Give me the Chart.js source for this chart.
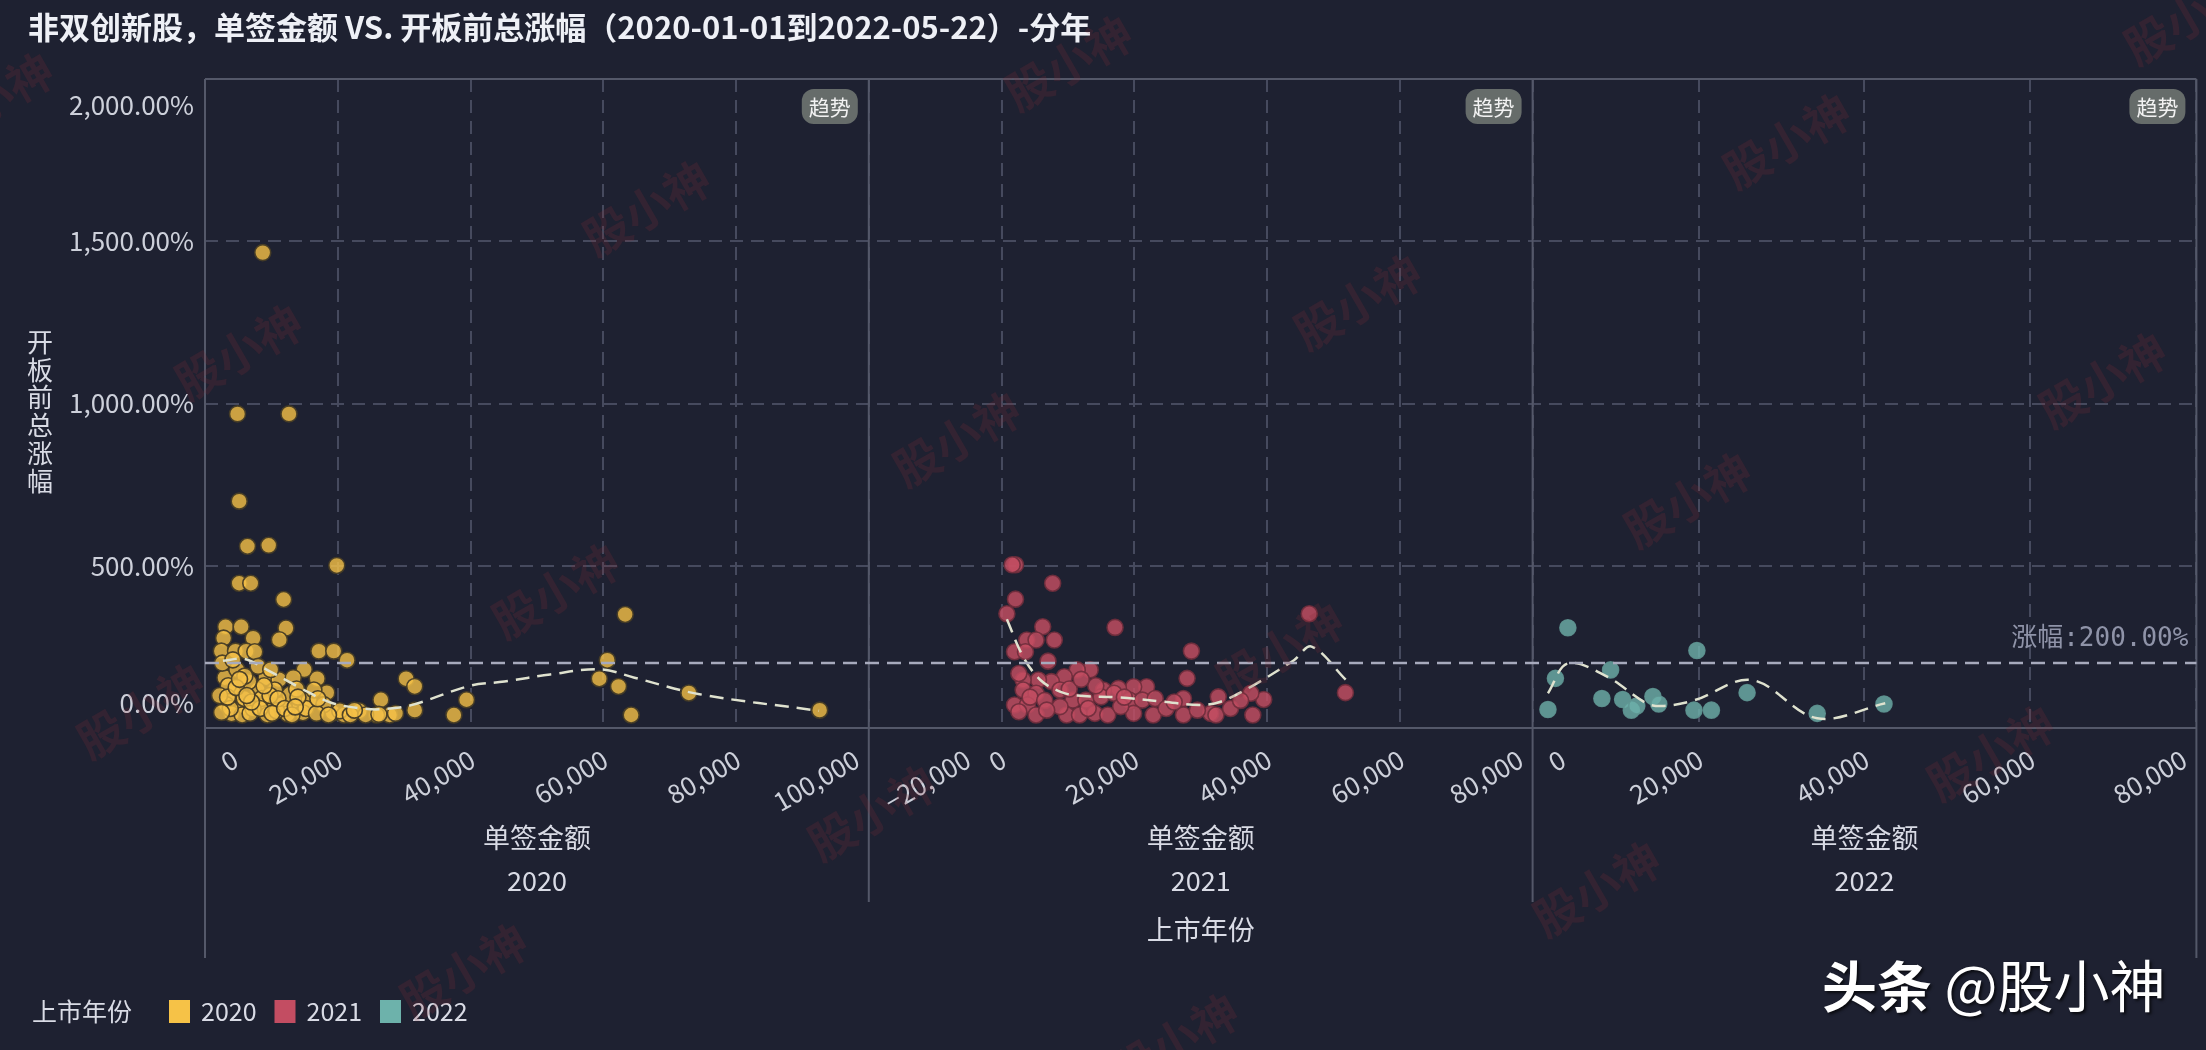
<!DOCTYPE html>
<html>
<head>
<meta charset="utf-8">
<script src="https://cdn.jsdelivr.net/npm/chart.js@4.4.1/dist/chart.umd.min.js"></script>
<style>
  html, body { margin: 0; padding: 0; background: #1e2131; }
  #wrap { width: 2206px; height: 1050px; }
</style>
</head>
<body>
<div id="wrap"><canvas id="canvas" width="2206" height="1050"></canvas></div>
<script>
var chartTitle = '非双创新股，单签金额 VS. 开板前总涨幅（2020-01-01到2022-05-22）-分年';
var years = ['2020', '2021', '2022'];
var yearColors = ['#f6c247', '#c34d62', '#6db2ab'];
var xMins = [0, -20000, 0];
var xMaxs = [100000, 80000, 80000];
var xStep = 20000;
var yMin = 0, yMax = 2000, yStep = 500;
var ruleValue = 200;

// 单签金额 / 开板前总涨幅(%)
var amt2020 = [8700, 4900, 12650, 5150, 6400, 9600, 5150, 6900, 19850, 11850, 12200, 11200, 63300, 17150, 19400, 21400, 60600, 59400, 62300, 64200, 72900, 92600, 30300, 31600, 26500, 39400, 37500, 31600, 27800, 25850, 23250, 18350, 16900, 14950, 3100, 5450, 2800, 7250, 2450, 4600, 6200, 7500, 3000, 4800, 4300, 9200, 11150, 13300, 3200, 5800, 9200, 11500, 14300, 15700, 4000, 5600, 9400, 12450, 14750, 19300, 20950, 7900, 10500, 12800, 6600, 16400, 17900, 20300, 21900, 24200, 5900, 8550, 7250, 10800, 2600, 3500, 6000, 8000, 9800, 11000, 13800, 15200, 16800, 18600, 3800, 6800, 8300, 10100, 12000, 13100, 2200, 3400, 4700, 7000, 8900, 14000, 17000, 22500, 26200, 28700, 2500, 4200, 5200, 6300, 9900, 13600];
var gain2020 = [1465, 968, 968, 699, 560, 563, 446, 446, 501, 396, 308, 272, 350, 237, 237, 209, 209, 152, 128, 40, 108, 55, 152, 128, 87, 87, 40, 55, 40, 40, 53, 109, 152, 180, 312, 312, 277, 277, 237, 237, 237, 235, 155, 180, 107, 155, 149, 155, 72, 68, 72, 72, 72, 85, 44, 40, 40, 43, 47, 47, 40, 117, 117, 104, 143, 117, 72, 53, 40, 40, 91, 91, 59, 53, 200, 130, 160, 190, 100, 90, 120, 60, 45, 40, 60, 45, 60, 45, 60, 40, 100, 95, 125, 80, 130, 95, 90, 55, 42, 45, 48, 210, 150, 100, 180, 65];

var amt2021 = [2100, 1600, 7700, 2100, 800, 17100, 6200, 7950, 3800, 5200, 1950, 3600, 7000, 28600, 46350, 51800, 27950, 27400, 31500, 37850, 39500, 37550, 32650, 21850, 19900, 17600, 15350, 13350, 11400, 9450, 7500, 5550, 3250, 2600, 3250, 5200, 8800, 10750, 12700, 15000, 16950, 19250, 21200, 23150, 1950, 3900, 5200, 2600, 9800, 11750, 14050, 16000, 19900, 22850, 27400, 32300, 17950, 13050, 8800, 4300, 6500, 10200, 14200, 18500, 24800, 29500, 34500, 36000, 26000, 12000, 6800];
var gain2021 = [503, 503, 446, 397, 352, 310, 312, 271, 271, 271, 235, 235, 206, 237, 352, 109, 153, 91, 45, 40, 88, 107, 96, 127, 127, 122, 117, 179, 179, 158, 143, 148, 148, 168, 117, 107, 117, 86, 86, 96, 107, 86, 86, 91, 71, 71, 40, 50, 40, 40, 45, 40, 45, 40, 40, 40, 66, 60, 66, 95, 85, 120, 130, 95, 60, 55, 60, 85, 80, 150, 55];

var amt2022 = [4250, 19800, 2750, 9400, 1850, 8350, 10850, 11900, 12550, 14500, 15200, 19450, 21550, 25850, 34300, 42350];
var gain2022 = [309, 239, 153, 179, 57, 91, 88, 55, 68, 97, 74, 55, 55, 109, 45, 74];

// 趋势线
var trendAmt2020 = [2700, 5900, 9200, 14400, 19000, 24200, 27500, 31400, 39900, 45100, 52000, 59500, 64700, 74500, 92500];
var trendGain2020 = [207, 213, 181, 123, 78, 59, 59, 72, 130, 143, 165, 181, 155, 104, 53];
var trendAmt2021 = [800, 3250, 5850, 8800, 11400, 17950, 24500, 29700, 33000, 37550, 44050, 46700, 51900];
var trendGain2021 = [335, 220, 148, 112, 100, 94, 81, 71, 81, 127, 209, 251, 148];
var trendAmt2022 = [1850, 4250, 9000, 13750, 15850, 19550, 26400, 34300, 42500];
var trendGain2022 = [107, 199, 158, 76, 68, 86, 148, 30, 76];

var watermarks = [[1069, 63], [647, 208], [1787, 141], [1358, 302], [239, 352], [2103, 380], [957, 439], [1688, 500], [556, 591], [1280, 650], [141, 711], [1991, 753], [872, 813], [1597, 889], [464, 971], [2188, 17], [1175, 1041], [-10, 100]];

var fontFam = '"Noto Sans CJK SC", "Noto Sans", sans-serif';
var tickColor = '#cdd0da';
var gridColor = '#464a5e';
var frameColor = '#545869';
var pointFills = ['rgba(246,194,71,0.8)', 'rgba(196,78,99,0.82)', 'rgba(110,178,171,0.8)'];
var pointBorders = ['rgba(70,60,38,0.95)', 'rgba(110,45,60,0.9)', 'rgba(95,150,146,0.9)'];

Chart.defaults.font.family = fontFam;

function pairs(xs, ys) {
	var out = [];
	for (var i = 0; i < xs.length; i++) out.push({x: xs[i], y: ys[i]});
	return out;
}
function fmtAmt(v) {
	return (v < 0 ? '\u2212' : '') + Math.abs(v).toLocaleString('en-US');
}
function fmtPct(v) {
	return v.toLocaleString('en-US', {minimumFractionDigits: 2, maximumFractionDigits: 2}) + '%';
}

var pointSets = [pairs(amt2020, gain2020), pairs(amt2021, gain2021), pairs(amt2022, gain2022)];
var trendSets = [pairs(trendAmt2020, trendGain2020), pairs(trendAmt2021, trendGain2021), pairs(trendAmt2022, trendGain2022)];

var datasets = [];
years.forEach(function(yr, i) {
	datasets.push({
		label: yr + ' 趋势',
		data: trendSets[i],
		xAxisID: 'x' + yr,
		yAxisID: 'y',
		showLine: true,
		borderColor: '#dfe2cf',
		borderWidth: 2.5,
		borderDash: [14, 8],
		pointRadius: 0,
		tension: 0.35,
		order: 0
	});
	datasets.push({
		label: yr,
		data: pointSets[i],
		xAxisID: 'x' + yr,
		yAxisID: 'y',
		backgroundColor: pointFills[i],
		borderColor: pointBorders[i],
		borderWidth: 1.6,
		pointRadius: 8,
		order: 1
	});
});

var scales = {
	y: {
		type: 'linear',
		position: 'left',
		min: yMin,
		max: yMax,
		ticks: {stepSize: yStep, display: false},
		grid: {color: gridColor, lineWidth: 2, drawTicks: false},
		border: {display: false, dash: [13, 8]},
		afterFit: function(s) { s.width = 205; }
	}
};
years.forEach(function(yr, i) {
	scales['x' + yr] = {
		type: 'linear',
		position: 'bottom',
		stack: 'year',
		stackWeight: 1,
		min: xMins[i],
		max: xMaxs[i],
		ticks: {stepSize: xStep, display: false},
		grid: {color: gridColor, lineWidth: 2, drawTicks: false},
		border: {display: false, dash: [13, 8]},
		title: {
			display: true,
			text: ['单签金额', yr],
			color: '#d9dbe5',
			font: {size: 27, lineHeight: '43px'},
			padding: {top: 0, bottom: 148}
		},
		afterFit: function(s) { s.height = 322; }
	};
});

var overlay = {
	id: 'overlay',
	beforeDatasetsDraw: function(chart) {
		var ctx = chart.ctx, a = chart.chartArea;
		ctx.save();
		ctx.strokeStyle = frameColor;
		ctx.lineWidth = 2;
		ctx.beginPath();
		ctx.moveTo(a.left, a.top); ctx.lineTo(a.right, a.top);
		ctx.moveTo(a.left, a.bottom); ctx.lineTo(a.right, a.bottom);
		ctx.moveTo(a.left, a.top); ctx.lineTo(a.left, 958);
		ctx.moveTo(a.right, a.top); ctx.lineTo(a.right, 958);
		for (var i = 1; i < years.length; i++) {
			var s = chart.scales['x' + years[i]];
			ctx.moveTo(s.left, a.top); ctx.lineTo(s.left, 902);
		}
		ctx.stroke();
		ctx.restore();
	},
	afterDatasetsDraw: function(chart) {
		var ctx = chart.ctx, a = chart.chartArea;
		var y = chart.scales.y.getPixelForValue(ruleValue);
		ctx.save();
		ctx.strokeStyle = '#a7aabd';
		ctx.lineWidth = 2.5;
		ctx.setLineDash([14, 8]);
		ctx.beginPath(); ctx.moveTo(a.left, y); ctx.lineTo(a.right, y); ctx.stroke();
		ctx.setLineDash([]);
		ctx.font = '26px "DejaVu Sans Mono", "Noto Sans CJK SC", monospace';
		ctx.fillStyle = '#8f93a8';
		ctx.textAlign = 'right';
		ctx.textBaseline = 'middle';
		ctx.fillText('涨幅:' + fmtPct(ruleValue), a.right - 8, y - 24);
		ctx.restore();
	},
	afterDraw: function(chart) {
		var ctx = chart.ctx, a = chart.chartArea;
		ctx.save();
		ctx.textBaseline = 'middle';

		// title
		ctx.fillStyle = '#eef0f6';
		ctx.font = 'bold 31px ' + fontFam;
		ctx.textAlign = 'left';
		ctx.fillText(chartTitle, 28, 27);

		// y ticks
		var ys = chart.scales.y;
		ctx.font = '26px ' + fontFam;
		ctx.fillStyle = tickColor;
		ctx.textAlign = 'right';
		ys.ticks.forEach(function(t, i) {
			var py = ys.getPixelForValue(t.value);
			if (i === 0) py -= 25;
			if (i === ys.ticks.length - 1) py += 26;
			ctx.fillText(fmtPct(t.value), a.left - 11, py);
		});

		// x ticks
		years.forEach(function(yr) {
			var s = chart.scales['x' + yr];
			var n = s.ticks.length;
			s.ticks.forEach(function(t, i) {
				var px = s.getPixelForValue(t.value);
				var txt = fmtAmt(t.value);
				var w = ctx.measureText(txt).width;
				ctx.save();
				if (i === 0) {
					ctx.translate(px + 18, a.bottom + 29 + w * 0.5);
					ctx.textAlign = 'left';
				} else {
					ctx.translate(px + (i === n - 1 ? -12 : 2), a.bottom + 29);
					ctx.textAlign = 'right';
				}
				ctx.rotate(-Math.PI / 6);
				ctx.fillText(txt, 0, 0);
				ctx.restore();
			});
		});

		// y title, upright characters
		ctx.font = '26px ' + fontFam;
		ctx.fillStyle = '#d9dbe5';
		ctx.textAlign = 'center';
		var yTitle = '开板前总涨幅'.split('');
		var cy = (a.top + a.bottom) / 2 + 8 - (yTitle.length - 1) * 27.8 / 2;
		yTitle.forEach(function(ch, i) { ctx.fillText(ch, 40, cy + i * 27.8); });

		// facet title
		ctx.font = '27px ' + fontFam;
		ctx.fillText('上市年份', (a.left + a.right) / 2, 930);

		// 趋势 badges
		years.forEach(function(yr) {
			var s = chart.scales['x' + yr];
			var bx = s.right - 67, by = a.top + 10;
			ctx.fillStyle = '#666c6a';
			ctx.beginPath();
			ctx.roundRect(bx, by, 56, 35, 12);
			ctx.fill();
			ctx.fillStyle = '#f2f2f2';
			ctx.font = '21px ' + fontFam;
			ctx.fillText('趋势', bx + 28, by + 18);
		});

		// legend
		ctx.font = '25px ' + fontFam;
		ctx.textAlign = 'left';
		ctx.fillStyle = '#d9dbe5';
		ctx.fillText('上市年份', 32, 1011);
		var lx = 169;
		years.forEach(function(yr, i) {
			ctx.fillStyle = yearColors[i];
			ctx.fillRect(lx, 1000, 21, 23);
			ctx.fillStyle = '#d9dbe5';
			ctx.fillText(yr, lx + 32, 1011);
			lx += 32 + ctx.measureText(yr).width + 18;
		});

		// watermarks
		ctx.font = 'bold 46px ' + fontFam;
		ctx.fillStyle = 'rgba(135,45,55,0.2)';
		ctx.textAlign = 'center';
		watermarks.forEach(function(p) {
			ctx.save();
			ctx.translate(p[0], p[1]);
			ctx.rotate(-Math.PI / 6);
			ctx.fillText('股小神', 0, 0);
			ctx.restore();
		});

		// signature
		ctx.shadowColor = 'rgba(0,0,0,0.7)';
		ctx.shadowBlur = 3;
		ctx.shadowOffsetX = 2;
		ctx.shadowOffsetY = 2;
		ctx.fillStyle = '#ffffff';
		ctx.textAlign = 'left';
		ctx.font = 'bold 55px ' + fontFam;
		ctx.fillText('头条', 1822, 986);
		var sw = ctx.measureText('头条 ').width;
		ctx.font = '56px ' + fontFam;
		ctx.fillText('@股小神', 1822 + sw, 986);
		ctx.restore();
	}
};

var ctx = document.getElementById('canvas').getContext('2d');
var chart = new Chart(ctx, {
	type: 'scatter',
	data: {datasets: datasets},
	options: {
		responsive: false,
		animation: false,
		devicePixelRatio: 1,
		layout: {padding: {top: 79, right: 9, bottom: 0, left: 0}},
		scales: scales,
		plugins: {
			legend: {display: false},
			tooltip: {enabled: false}
		}
	},
	plugins: [overlay]
});
</script>
</body>
</html>
